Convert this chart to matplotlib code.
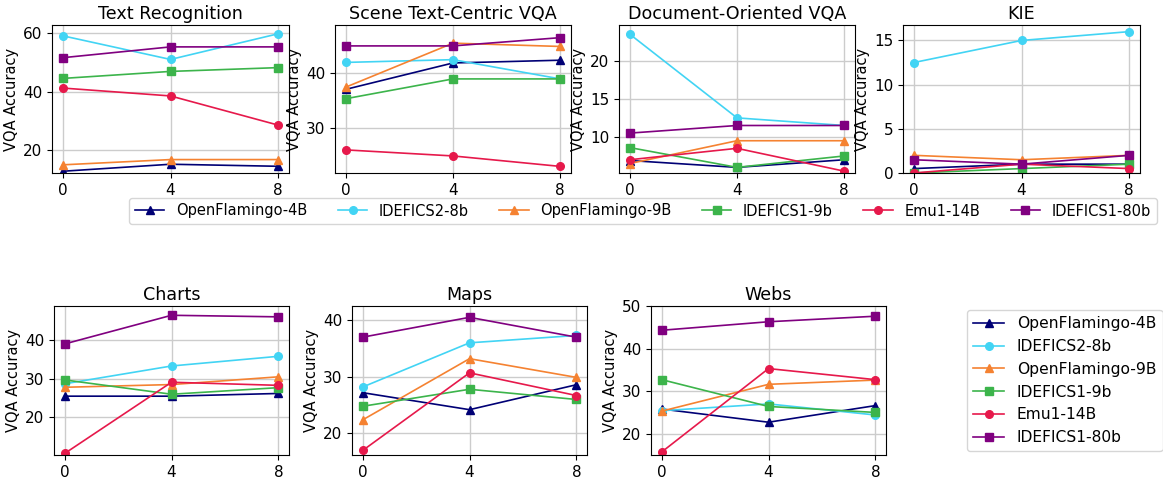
import matplotlib
matplotlib.use("Agg")
import matplotlib.pyplot as plt

# Shots (x axis)
shots = [0, 4, 8]

# Models, colours and markers
models = ["OpenFlamingo-4B", "IDEFICS2-8b", "OpenFlamingo-9B",
          "IDEFICS1-9b", "Emu1-14B", "IDEFICS1-80b"]
colors = ["#000075", "#42d4f4", "#f58231", "#3cb44b", "#e6194b", "#800080"]
markers = ["^", "o", "^", "s", "o", "s"]

# Values per task, one list per model (same order as models)
text_recognition = [
    [12.8, 15.2, 14.5],
    [59.2, 51.1, 59.9],
    [15.0, 16.8, 16.8],
    [44.6, 47.0, 48.3],
    [41.3, 38.6, 28.6],
    [51.7, 55.4, 55.4],
]
scene_text = [
    [37.1, 41.9, 42.4],
    [42.0, 42.5, 39.0],
    [37.5, 45.5, 44.9],
    [35.4, 39.0, 39.0],
    [26.1, 25.0, 23.1],
    [45.0, 45.0, 46.5],
]
document_vqa = [
    [6.9, 6.0, 7.0],
    [23.5, 12.5, 11.5],
    [6.5, 9.5, 9.5],
    [8.6, 6.0, 7.5],
    [7.0, 8.5, 5.5],
    [10.5, 11.5, 11.5],
]
kie = [
    [0.5, 1.0, 1.0],
    [12.5, 15.0, 16.0],
    [2.0, 1.5, 2.0],
    [0.0, 0.5, 1.0],
    [0.0, 1.0, 0.5],
    [1.5, 1.0, 2.0],
]
charts = [
    [25.5, 25.5, 26.2],
    [28.7, 33.3, 35.8],
    [27.8, 28.5, 30.5],
    [29.7, 26.0, 27.7],
    [10.7, 29.1, 28.3],
    [39.0, 46.4, 46.0],
]
maps = [
    [27.2, 24.2, 28.6],
    [28.2, 36.0, 37.3],
    [22.4, 33.2, 29.9],
    [24.8, 27.8, 26.0],
    [17.0, 30.7, 26.7],
    [37.0, 40.5, 37.0],
]
webs = [
    [25.8, 22.7, 26.6],
    [25.4, 27.0, 24.4],
    [25.3, 31.6, 32.6],
    [32.7, 26.4, 25.0],
    [15.7, 35.3, 32.7],
    [44.3, 46.3, 47.6],
]

tasks = [
    ("Text Recognition", text_recognition, (12.2, 62.9)),
    ("Scene Text-Centric VQA", scene_text, (21.9, 48.8)),
    ("Document-Oriented VQA", document_vqa, (5.26, 24.7)),
    ("KIE", kie, (0, 16.75)),
    ("Charts", charts, (10.3, 48.8)),
    ("Maps", maps, (16.2, 42.5)),
    ("Webs", webs, (15.0, 50.0)),
]

W, H = 1163, 482
fig = plt.figure(figsize=(W / 100, H / 100), dpi=100)

# axes boxes in pixels: left, top, right, bottom
boxes = [
    (52, 25, 289, 173), (335, 25, 571, 173), (619, 25, 855, 173), (903, 25, 1140, 173),
    (54, 306, 289, 455), (352, 306, 587, 455), (651, 306, 886, 455),
]

handles = None
for (title, data, ylim), (l, t, r, b) in zip(tasks, boxes):
    ax = fig.add_axes([l / W, 1 - b / H, (r - l) / W, (b - t) / H])
    lines = []
    for name, vals, c, m in zip(models, data, colors, markers):
        ln, = ax.plot(shots, vals, color=c, marker=m, markersize=5.5,
                      linewidth=1.2, label=name)
        lines.append(ln)
    handles = lines
    ax.set_title(title, fontsize=12.6, pad=4)
    ax.set_ylabel("VQA Accuracy", fontsize=10.5, labelpad=3)
    ax.set_xticks(shots)
    ax.set_ylim(*ylim)
    ax.tick_params(labelsize=11)
    ax.grid(True, color="#cccccc", linewidth=1)
    ax.set_axisbelow(True)

fig.legend(handles, models, loc="center", ncol=6, fontsize=10.5,
           bbox_to_anchor=(643 / W, 1 - 211 / H), handlelength=2,
           columnspacing=2.1, borderpad=0.4)
fig.legend(handles, models, loc="upper left", ncol=1, fontsize=11.2,
           bbox_to_anchor=(967 / W, 1 - 310 / H), handlelength=2,
           borderaxespad=0)

fig.savefig("out.png", dpi=100)
